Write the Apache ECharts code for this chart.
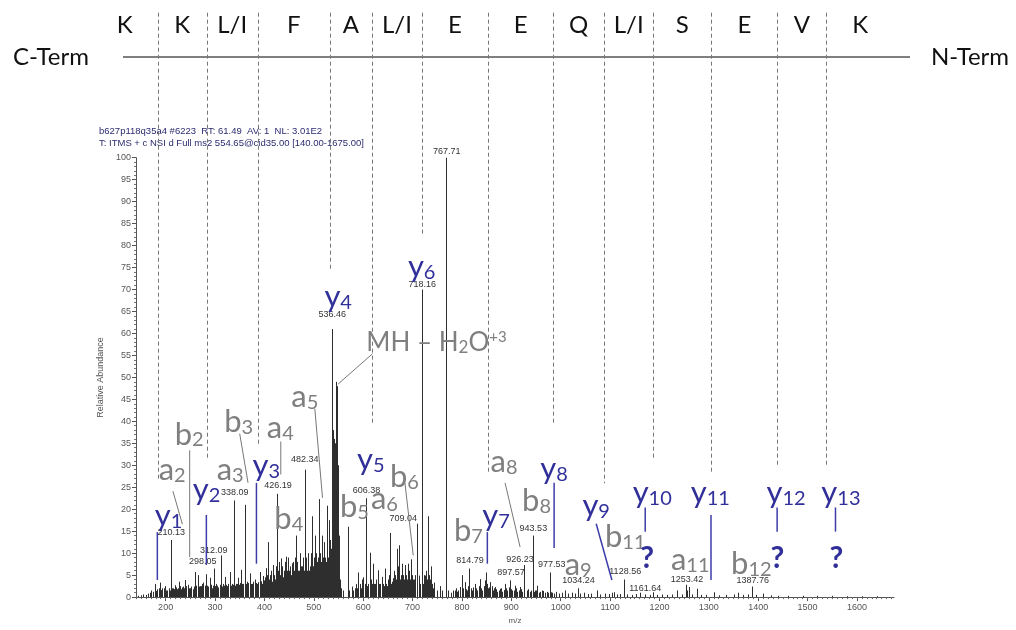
<!DOCTYPE html>
<html><head><meta charset="utf-8">
<script src="https://cdn.jsdelivr.net/npm/echarts@6/dist/echarts.min.js"></script>
<style>html,body{margin:0;padding:0;background:#fff}#c{width:1016px;height:630px}</style>
</head><body><div id="c"></div>
<script>
// ---------------- data ----------------
const titleLines = ['b627p118q35a4 #6223  RT: 61.49  AV: 1  NL: 3.01E2',
                    'T: ITMS + c NSI d Full ms2 554.65@cid35.00 [140.00-1675.00]'];
const residues = ['K','K','L/I','F','A','L/I','E','E','Q','L/I','S','E','V','K'];
const sepMz  = [183.8,283.1,386.5,532.5,617.7,719.1,852.9,984.7,1088.1,1187.5,1305,1438.9,1538.2];
const sepEnd = [26.4,31.6,34.6,74.3,39.2,82.0,28.0,39.2,25.9,31.6,28.0,29.8,29.8];
const xTickLabels = [200,300,400,500,600,700,800,900,1000,1100,1200,1300,1400,1500,1600];

// spectrum peaks [m/z, relative abundance]
const peaks = [
[145,0.3],[150,0.4],[155,0.6],[160,0.5],[165,0.8],[168,1],[171,1.5],[174,1.2],[178,3],[180,1.4],[183,1.8],[186,2],[188,3.3],[191,1.6],[193,2],[196,2],[198,2.5],
[200,1.5],[203,1.5],[206,2],[208,1.5],[210.13,13],[212,2],[214,2],[216,1.8],[218,2.7],[220,2.2],[222,1.6],[224,1.8],[226,2],[228,3.5],[230,2.5],[232,1.8],[234,2.2],[236,2.4],[238,2],[240,3.9],[242,2.5],[245,2.8],[247,2],[250,2],[252,2.4],[255,1.8],[257,2.4],[259,5.7],[262,2.6],[265,5],[267,2.4],[270,2.5],[272,2.5],[274,3],[276,3.3],[279,2.6],[282,5.2],[284,2.6],[286,2.4],[289,4.4],[291,2.8],[293,2],[295,2.6],
[298.05,6.5],[300,2.5],[303,3],[305,2.6],[307,2.2],[310,2.8],[312.09,9.5],[314,2.4],[316,3],[318,2.6],[320,4.6],[322,2.8],[325,2.5],[327,3],[330,5.7],[332,2.6],[334,3],[336,2.8],[338.09,22],[340,2.6],[342,3],[344,3],[347,4.4],[349,2.8],[351,3.2],[353,6.2],[355,3],[357,3],[360,21],[362,3],[365,3.5],[367,3.2],[370,5.4],[372,3],[375,3],[377,3.5],[380,4],[382,3.2],[384,2.8],[386,3],[388,3.4],[391,5.7],[393,3.6],[395,3],[397,4.8],[399,3.8],
[400,3],[401,3.5],[402,4.5],[404,6.6],[406,5],[408,12.5],[410,4],[412,5],[414,6],[416,3.5],[417.6,7.3],[419,5],[421,4],[423,7],[425,5],[426.19,23.5],[428,6],[430,8],[431,5],[433,5],[434.6,8.8],[436,7],[438,4.5],[439,6],[441,8],[443,5],[444.7,9.2],[446,6],[448,9],[449,6],[451,7],[453,5],[454.9,7.7],[457,8],[459,6],[460,5],[462,9],[464,7],[465,14],[467,8],[468,6],[470,6],[471.7,9],[473,10],[475,7],[476,7],[478,9],[480,6],
[482.34,29],[484,9],[486,6],[487.3,9],[489,10],[490,6],[492,7],[494,10],[495.4,18.4],[497,8],[498,7],[500,9],[501,6],[502,14],[504,10],[505,7],[506,8],[508,9],[509,6],[510,22.3],[512,10],[513,8],[515,8],[516,10],[517,14],[519,9],[520,11],[521,12.5],[523,9],[524,8],[526,10],[527.6,20.8],[529,9],[530,12],[531,17.5],[532,10],[533,13],[534,9],[535,11],
[536.46,61],[537,24],[538,36],[539,38],[540,33],[541,36],[542,30],[543,28],[544,35],[545.2,49],[546,36],[547.2,48],[548,33],[549,30],[550,20],[551,14],[552,6],[553,4],[556,2],[560,1.5],
[568.4,16],[572,1.5],[576.5,2.4],[580,1.5],[583,2],[585,3],[588,2],[590,5.6],[593,3],[595,2],[597,4],[600,4.5],[603,3],[606.38,22.5],[608,2.5],[610,3],[613.8,10.1],[615,4],[617,3],[620.5,7.6],[622,3],[625,3],[627,4],[630.7,6.1],[632,3],[634,3],[637.5,4.6],[639,3],[641,3],[642,2.5],[644,6.5],[646,3],[648,2.5],[650,4],[652,5],
[654,14.6],[656,3],[658,3.5],[660,4],[661,4.3],[663,6],[664,5],[666,4],[667.8,11],[669,6],[671,7],[673,11.8],[675,4],[676,5],[678,7.6],[680,5],[681,4],[683,4],[684.6,7.3],[686,5],[688,4],[689,3],[691.3,7.6],[693,6],[694,4],[696.8,8.6],[698,5],[700,4],[702,4],[704,3],[706,5],
[709.04,16.7],[710,4],[712.4,4.9],[714,3],[716,3],[718.16,70],[719,4],[721,3],[723,5],[725,4.9],[727,6],[728,3],[730,4],[732,18.4],[734,5],[735,4],[737.3,7],[739,3],[740,2.5],[742,2],[744,3.3],[750,1.5],[755.5,2.5],[760,1.5],
[767.71,100],[772,1.5],[778,1],[782,1.5],[785,1.5],[788,2],[790,1.2],[793,1.5],[796,2.3],[800,5],[803,2],[806,3.4],[808,1.8],[810,1.5],[812,2.5],[814.79,6.5],[818,2],[820,1.5],[823,2.2],[826.5,3],[829,2],[831,1.5],[834,2.5],[836.7,4.1],[839,2],[841,1.5],[844,2.5],[846.8,3.8],[849,5.6],[851,3],[853,2],[855,2.2],[857,3.4],[860,2.5],[862,1.5],[865,2],[867,2.3],[870,1.8],[872,1.2],[875,1.5],[877,1.9],[880,2],[882,1.2],[885,1.6],[887,3],[890,2],[892,1.5],[895,2.2],
[897.57,3.8],[900,1.8],[902,1.5],[905,1.5],[907.6,2.6],[910,2],[912,1.2],[915,1.5],[917.7,2.3],[920,1.8],[922,1.2],[925,1.5],[926.23,7.3],[931,1.5],[934,1.8],[937,1.2],[940,1.5],[943.53,14],[945,1.2],[947,1.5],[950,1.5],[951.6,2.6],[956,1],[959,1.2],[962,1.5],[965,1.4],[968,1],[972,1.2],[975,1],[977.53,5.6],[980,1.1],[983,1],[987,0.8],[990,1.2],[997,0.8],
[1003,1],[1009,1.5],[1015,0.8],[1022,1],[1028,0.8],[1034.24,2],[1040,0.8],[1048,1],[1055,0.7],[1062,0.8],[1073,1.5],[1080,0.6],[1090,0.8],[1098,0.7],[1104,1],[1107,1.1],[1115,0.6],[1120,0.7],[1128.56,4],[1135,0.6],[1145,0.5],[1152,0.7],[1161.64,1],[1170,0.6],[1180,0.5],[1187,1.1],[1195,0.5],
[1205,0.6],[1215,0.5],[1225,0.6],[1235.5,1.5],[1245,0.6],[1253.42,2.8],[1256,1.5],[1259,2.3],[1266,0.6],[1276,1.9],[1285,0.5],[1295,0.5],[1309.6,1.1],[1320,0.4],[1335,0.5],[1350,0.6],[1359,1],[1370,0.5],[1380,0.6],[1387.76,2.4],[1395,0.5],[1410,0.8],[1425,0.4],[1440,0.3],[1460,0.3],[1490,0.3],[1520,0.3],[1550,0.3],[1580,0.2],[1610,0.2],[1640,0.2]
];

// peak m/z labels: [text, anchor m/z, anchor abundance]
const peakLabels = [
['210.13',211.6,14.7],['298.05',275,8.0],['312.09',297.3,10.6],['338.09',339.9,23.8],['426.19',427.7,25.3],
['482.34',481.8,31.3],['536.46',537.2,64.2],['606.38',606.9,24.3],['709.04',681.1,17.8],['718.16',719.7,71.2],
['767.71',769.1,101.3],['814.79',816.4,8.4],['897.57',899.5,5.5],['926.23',917.8,8.5],['943.53',944.7,15.5],
['977.53',982.0,7.4],['1034.24',1036,3.7],['1128.56',1130.7,5.8],['1161.64',1171.2,1.9],['1253.42',1255.7,4.1],['1387.76',1388.8,3.7]
];

// fragment ion annotations: [ion, index, anchor m/z, anchor abundance]
const yIons = [
['y','1',206.1,18.5],['y','2',283.1,24.4],['y','3',403.8,29.9],['y','4',549.4,68.4],['y','5',615.7,31.1],
['y','6',718.5,75.1],['y','7',869.1,18.5],['y','8',986.7,29.1],['y','9',1071.9,20.8],['y','10',1185.4,23.7],
['y','11',1303,23.7],['y','12',1456.5,23.7],['y','13',1567.6,23.7]
];
const abIons = [
['a','2',213.2,28.9],['b','2',247.6,37.0],['a','3',330.8,28.9],['b','3',348,39.9],['a','4',432.2,38.5],
['b','4',449.4,17.8],['a','5',481.8,45.5],['b','5',582.2,20.4],['a','6',643,22.3],['b','6',683.6,27.3],
['b','7',813.3,15.0],['a','8',885.3,30.8],['b','8',951.2,21.9],['a','9',1035.4,7.2],['b','11',1130.7,13.7],
['a','11',1262.4,8.4],['b','12',1386.1,7.6]
];
const precursorLabel = [748.5,57.9];
const unknownMz = [1175.3,1438.9,1558.5];
const unknownAb = [8.8,8.8,8.8];

// leader lines [m/z1, ab1, m/z2, ab2]
const grayLeaders = [
[214.8,24.1,233.9,16.6],[248.7,33.4,248.7,9.1],[350,37.2,366.9,26.0],[433.2,35.4,433.2,27.9],
[502.1,42.9,517.7,22.6],[619.1,55.4,549.4,48.5],[684.6,26.0,701.4,9.5],[887.4,26.0,917.8,11.4]
];
const blueLeaders = [
[183.2,14.8,183.2,3.9],[282.5,18.7,282.5,7.3],[383.9,26.0,383.9,7.6],[851.5,14.8,851.5,7.6],
[986.7,26.0,986.7,11.2],[1071.9,16.7,1103.7,3.9],[1171.2,20.4,1171.2,14.9],[1304.4,18.7,1304.4,3.9],
[1438.3,20.4,1438.3,14.9],[1556.5,20.4,1556.5,14.9]
];
const ladderTop = 133;

// ---------------- styles ----------------
const BLUE = '#31309a', GRAY = '#7f7f7f';
const FONT = 'Lato';
function ionRich(color, big, small) {
  return {
    m: {fontSize: big, lineHeight: big, fontFamily: FONT, fill: color, verticalAlign: 'top'},
    s: {fontSize: small, lineHeight: small, fontFamily: FONT, fill: color, verticalAlign: 'bottom', padding: [Math.round(big*0.55),0,0,0]},
    p: {fontSize: small-2, lineHeight: small-2, fontFamily: FONT, fill: color, verticalAlign: 'top'}
  };
}

const chart = echarts.init(document.getElementById('c'), null, {renderer: 'canvas'});

function lineSeries(list, color, width, z) {
  return {
    type: 'custom', clip: false, z: z, silent: true,
    data: list.map(l => [l[0], l[1]]),
    renderItem: (params, api) => {
      const l = list[params.dataIndex];
      const a = api.coord([l[0], l[1]]), b = api.coord([l[2], l[3]]);
      return {type: 'line', shape: {x1: a[0], y1: a[1], x2: b[0], y2: b[1]},
              style: {stroke: color, lineWidth: width}};
    }
  };
}

function ionSeries(list, color) {
  const rich = ionRich(color, 31, 20);
  return {
    type: 'custom', clip: false, z: 6, silent: true,
    data: list.map(l => [l[2], l[3]]),
    renderItem: (params, api) => {
      const l = list[params.dataIndex];
      const p = api.coord([l[2], l[3]]);
      return {type: 'text', x: p[0], y: p[1],
              style: {text: '{m|' + l[0] + '}{s|' + l[1] + '}', rich: rich, align: 'center', verticalAlign: 'middle', fill: color}};
    }
  };
}

const option = {
  animation: false,
  backgroundColor: '#fff',
  grid: {left: 136, right: 122, top: 157.7, bottom: 27.7, containLabel: false},
  xAxis: [{
    type: 'value', min: 140, max: 1675,
    name: 'm/z', nameLocation: 'middle', nameGap: 18,
    nameTextStyle: {fontSize: 8, color: '#555', fontFamily: 'Liberation Sans'},
    axisLine: {show: true, lineStyle: {color: '#555', width: 1}},
    axisTick: {show: true, length: 4, customValues: xTickLabels, lineStyle: {color: '#555'}},
    axisLabel: {customValues: xTickLabels, fontSize: 9, color: '#555', margin: 6, fontFamily: 'Liberation Sans', formatter: v => String(v)},
    splitLine: {show: false}
  }, {
    type: 'value', min: 140, max: 1675, position: 'bottom',
    axisLine: {show: false},
    axisTick: {show: true, length: 2, customValues: Array.from({length: 154}, (_, i) => 140 + i * 10), lineStyle: {color: '#666'}},
    axisLabel: {show: false}, splitLine: {show: false}
  }],
  yAxis: {
    type: 'value', min: 0, max: 100, interval: 5,
    name: 'Relative Abundance', nameLocation: 'middle', nameGap: 24, nameRotate: 90,
    nameTextStyle: {fontSize: 9, color: '#555', fontFamily: 'Liberation Sans'},
    axisLine: {show: true, lineStyle: {color: '#555', width: 1}},
    axisTick: {show: true, length: 4, lineStyle: {color: '#555'}},
    minorTick: {show: true, splitNumber: 5, length: 2, lineStyle: {color: '#777'}},
    axisLabel: {fontSize: 9, color: '#555', margin: 5, fontFamily: 'Liberation Sans'},
    splitLine: {show: false}
  },
  graphic: [
    {type: 'line', shape: {x1: 123, y1: 57, x2: 910, y2: 57}, style: {stroke: '#555', lineWidth: 1.5}},
    {type: 'text', x: 51, y: 57, style: {text: 'C-Term', font: '24px Lato', fill: '#111', align: 'center', verticalAlign: 'middle'}},
    {type: 'text', x: 970, y: 57, style: {text: 'N-Term', font: '24px Lato', fill: '#111', align: 'center', verticalAlign: 'middle'}},
    {type: 'text', x: 99, y: 131, style: {text: titleLines[0], font: '9.5px "Liberation Sans"', fill: '#2b2b70', verticalAlign: 'middle'}},
    {type: 'text', x: 99, y: 143, style: {text: titleLines[1], font: '9.5px "Liberation Sans"', fill: '#2b2b70', verticalAlign: 'middle'}}
  ],
  series: [
    // dashed ladder separators
    {
      type: 'custom', clip: false, z: 1, silent: true,
      data: sepMz.map((m, i) => [m, sepEnd[i]]),
      renderItem: (params, api) => {
        const a = api.coord([api.value(0), ladderTop]), b = api.coord([api.value(0), api.value(1)]);
        const x = Math.round(a[0]) + 0.5;
        return {type: 'line', shape: {x1: x, y1: a[1], x2: x, y2: b[1]},
                style: {stroke: '#777', lineWidth: 1, lineDash: [4, 3]}};
      }
    },
    // residue letters
    {
      type: 'custom', clip: false, z: 2, silent: true,
      data: residues.map((r, i) => [i, 0]),
      renderItem: (params, api) => {
        const i = params.dataIndex, n = sepMz.length;
        const px = k => api.coord([sepMz[k], 0])[0];
        let x;
        if (i === 0) x = px(0) - (px(1) - px(0)) * 0.67;
        else if (i === residues.length - 1) x = px(n - 1) + (px(n - 1) - px(n - 2)) * 0.69;
        else x = (px(i - 1) + px(i)) / 2;
        return {type: 'text', x: x, y: 25, style: {text: residues[i], font: '24px Lato', fill: '#111', align: 'center', verticalAlign: 'middle'}};
      }
    },
    // spectrum sticks
    {
      type: 'custom', clip: false, z: 3, silent: true,
      data: peaks,
      renderItem: (params, api) => {
        const a = api.coord([api.value(0), 0]), b = api.coord([api.value(0), api.value(1)]);
        const x = Math.round(a[0]) + 0.5;
        return {type: 'line', shape: {x1: x, y1: a[1], x2: x, y2: b[1]},
                style: {stroke: '#2e2e2e', lineWidth: 1}};
      }
    },
    // peak labels
    {
      type: 'custom', clip: false, z: 4, silent: true,
      data: peakLabels.map(l => [l[1], l[2]]),
      renderItem: (params, api) => {
        const l = peakLabels[params.dataIndex];
        const p = api.coord([l[1], l[2]]);
        return {type: 'text', x: p[0], y: p[1], style: {text: l[0], font: '9px "Liberation Sans"', fill: '#333', align: 'center', verticalAlign: 'middle'}};
      }
    },
    lineSeries(grayLeaders, '#777', 1, 5),
    lineSeries(blueLeaders, '#3d3ca8', 1.5, 5),
    ionSeries(yIons, BLUE),
    ionSeries(abIons, GRAY),
    // precursor label
    {
      type: 'custom', clip: false, z: 6, silent: true,
      data: [precursorLabel],
      renderItem: (params, api) => {
        const p = api.coord(precursorLabel);
        return {type: 'text', x: p[0], y: p[1],
                style: {text: '{m|MH \u2013 H}{s|2}{m|O}{p|+3}', rich: ionRich(GRAY, 26, 17), align: 'center', verticalAlign: 'middle', fill: GRAY}};
      }
    },
    // unknown marks
    {
      type: 'custom', clip: false, z: 6, silent: true,
      data: unknownMz.map((m, i) => [m, unknownAb[i]]),
      renderItem: (params, api) => {
        const p = api.coord([api.value(0), api.value(1)]);
        return {type: 'text', x: p[0], y: p[1], style: {text: '?', font: 'bold 30px Lato', fill: BLUE, align: 'center', verticalAlign: 'middle'}};
      }
    }
  ]
};
chart.setOption(option);
</script></body></html>
